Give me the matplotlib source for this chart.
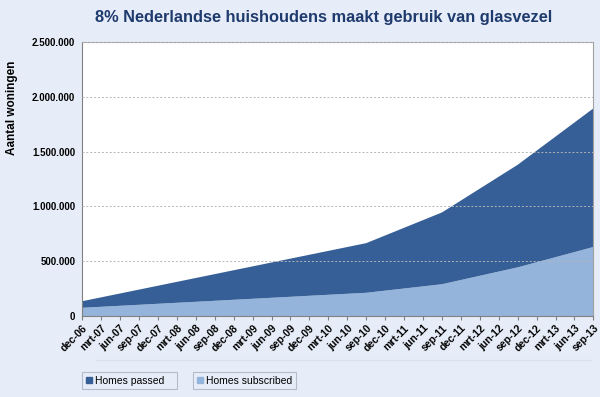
import matplotlib.pyplot as plt
from matplotlib.patches import Patch

plt.rcParams['font.family'] = ['Liberation Sans', 'DejaVu Sans']

# Data
quarters = ['dec-06', 'mrt-07', 'jun-07', 'sep-07', 'dec-07', 'mrt-08', 'jun-08',
            'sep-08', 'dec-08', 'mrt-09', 'jun-09', 'sep-09', 'dec-09', 'mrt-10',
            'jun-10', 'sep-10', 'dec-10', 'mrt-11', 'jun-11', 'sep-11', 'dec-11',
            'mrt-12', 'jun-12', 'sep-12', 'dec-12', 'mrt-13', 'jun-13', 'sep-13']
data_quarters = ['dec-06', 'sep-10', 'sep-11', 'sep-12', 'sep-13']
homes_passed = [135000, 665000, 945000, 1380000, 1895000]
homes_subscribed = [75000, 212000, 290000, 444000, 630000]

dark = '#365f97'
light = '#95b4dc'
bg = '#e7edf8'

x = [quarters.index(q) for q in data_quarters]
subs_part = homes_subscribed
passed_part = [p - s for p, s in zip(homes_passed, homes_subscribed)]

fig = plt.figure(figsize=(6, 3.97), dpi=100, facecolor=bg)
ax = fig.add_axes([0.137, 0.204, 0.852, 0.69])
ax.set_facecolor('white')

ax.stackplot(x, subs_part, passed_part, colors=[light, dark], linewidth=0)

ax.set_xlim(0, len(quarters) - 1)
ax.set_ylim(0, 2500000)
ax.set_yticks(range(0, 2500001, 500000))
ax.set_yticklabels(['0'] + [f"{v:,}".replace(',', '.') for v in range(500000, 2500001, 500000)],
                   fontsize=7, fontweight='bold')
ax.set_xticks(range(len(quarters)))
ax.set_xticklabels(quarters, rotation=45, ha='right', rotation_mode='anchor',
                   fontsize=7.5, fontweight='bold')
ax.tick_params(axis='x', length=3, color='#808080', pad=2)
ax.tick_params(axis='y', length=0, pad=5)

# Grid lines
ax.grid(axis='y', linestyle=(0, (2, 2)), color='#b4b4b4', linewidth=0.7)
ax.set_axisbelow(False)
for s in ax.spines.values():
    s.set_color('#a0a0a0')
    s.set_linewidth(0.8)
ax.spines['left'].set_color('#808080')
ax.spines['bottom'].set_color('#808080')

ax.set_ylabel('Aantal woningen', fontsize=8.5, fontweight='bold')
ax.yaxis.set_label_coords(-0.125, 0.76)

fig.text(0.54, 0.955, '8% Nederlandse huishoudens maakt gebruik van glasvezel',
         ha='center', va='center', fontsize=11.8, fontweight='bold', color='#1f3b6e')

# separator line below the axis labels
fig.add_artist(plt.Line2D([0.16, 0.985], [0.093, 0.093], color='#d8e0ee', linewidth=1))

# Legend boxes
leg1 = fig.legend(handles=[Patch(color=dark, label='Homes passed   ')],
                  loc='center left', bbox_to_anchor=(0.137, 0.041), fontsize=7.5,
                  frameon=True, fancybox=False, edgecolor='#a8b0c0', facecolor=bg,
                  handlelength=0.6, handleheight=0.6, handletextpad=0.3,
                  borderpad=0.35, borderaxespad=0)
leg2 = fig.legend(handles=[Patch(color=light, label='Homes subscribed')],
                  loc='center left', bbox_to_anchor=(0.322, 0.041), fontsize=7.5,
                  frameon=True, fancybox=False, edgecolor='#a8b0c0', facecolor=bg,
                  handlelength=0.6, handleheight=0.6, handletextpad=0.3,
                  borderpad=0.35, borderaxespad=0)
leg1.get_frame().set_linewidth(0.8)
leg2.get_frame().set_linewidth(0.8)

fig.savefig('out.png', dpi=100, facecolor=bg)
